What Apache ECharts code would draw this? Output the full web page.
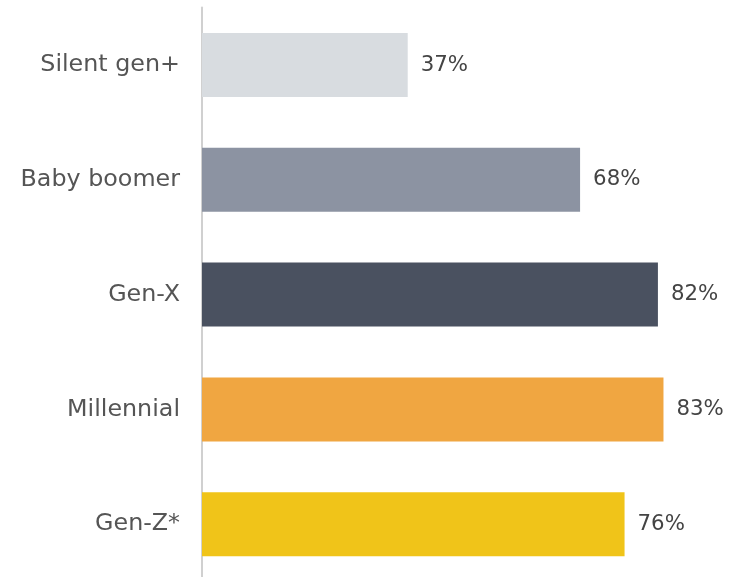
<!DOCTYPE html>
<html><head><meta charset="utf-8">
<script src="https://cdn.jsdelivr.net/npm/echarts@6/dist/echarts.min.js"></script>
<style>html,body{margin:0;padding:0;background:#fff;overflow:hidden}#c{width:742px;height:592px}</style>
</head><body><div id="c"></div>
<script>
const categories = ["Silent gen+", "Baby boomer", "Gen-X", "Millennial", "Gen-Z*"];
const values = [37, 68, 82, 83, 76];
const colors = ["#d8dce0", "#8c93a2", "#4a5160", "#f0a641", "#f0c419"];

const chart = echarts.init(document.getElementById('c'));
chart.setOption({
  animation: false,
  grid: {left: 202, width: 500.4, top: 7.6, height: 574, containLabel: false},
  xAxis: {type: 'value', min: 0, max: 90, show: false},
  yAxis: {
    type: 'category', data: categories, inverse: true,
    axisLine: {show: true, lineStyle: {color: '#d0d0d0', width: 2}},
    axisTick: {show: false},
    axisLabel: {fontFamily: 'DejaVu Sans', fontSize: 23.8, color: '#555', margin: 22}
  },
  series: [{
    type: 'bar', barWidth: 64,
    data: values.map((v, i) => ({value: v, itemStyle: {color: colors[i]}})),
    label: {show: true, position: 'right', distance: 13, formatter: '{c}%',
      fontFamily: 'DejaVu Sans', fontSize: 21.3, color: '#444'}
  }]
});
</script></body></html>
